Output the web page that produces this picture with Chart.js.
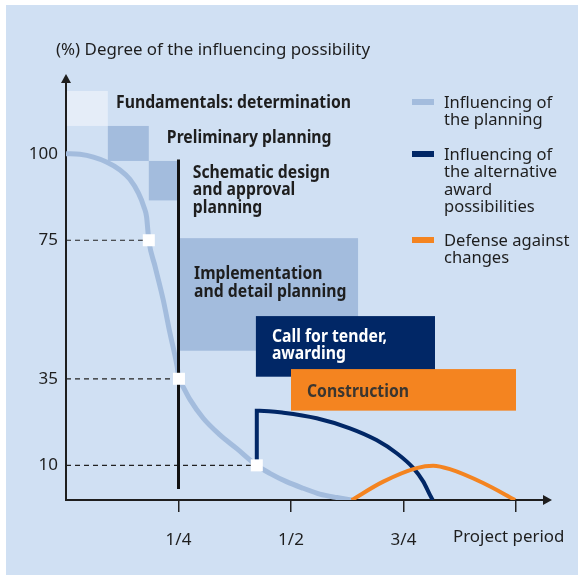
<!DOCTYPE html>
<html>
<head>
<meta charset="utf-8">
<script src="https://cdn.jsdelivr.net/npm/chart.js@4.4.1/dist/chart.umd.min.js"></script>
<style>
  body { margin: 0; background: #fff; }
  canvas { display: block; }
</style>
</head>
<body>
<canvas id="chart" width="578" height="575"></canvas>
<script>
// project period (fraction) and degree of influence (%)
const periodTicks = [0.25, 0.5, 0.75, 1];
const periodLabels = ['1/4', '1/2', '3/4', ''];
const degreeTicks = [10, 35, 75, 100];

const planningX = [0, 0.031, 0.061, 0.09, 0.12, 0.142, 0.161, 0.173, 0.179, 0.184, 0.198, 0.216, 0.231, 0.247, 0.251,
  0.261, 0.276, 0.305, 0.342, 0.379, 0.424, 0.453, 0.49, 0.527, 0.564, 0.602, 0.635];
const planningY = [100, 99.8, 99.0, 97.6, 95.3, 92.6, 88.6, 84.7, 81.8, 75, 67.4, 57.8, 48.2, 38.5, 35,
  32.5, 28.9, 23.6, 18.8, 14.9, 10, 7.7, 5.3, 3.4, 1.7, 0.7, 0];

const awardX = [0.424, 0.424, 0.43, 0.483, 0.557, 0.631, 0.69, 0.735, 0.772, 0.794, 0.809, 0.815];
const awardY = [10, 25.8, 25.8, 25.2, 23.6, 20.7, 17.3, 13.5, 9.2, 5.3, 1.4, 0];

const defenseX = [0.635, 0.705, 0.779, 0.816, 0.853, 0.927, 0.998];
const defenseY = [0, 5.3, 9.2, 9.9, 8.9, 4.9, 0];

const markerX = [0.184, 0.251, 0.424];
const markerY = [75, 35, 10];

const cutoffX = 0.25;
const cutoffRange = [98.3, 3.2];

const phaseNames = [
  ['Fundamentals: determination'],
  ['Preliminary planning'],
  ['Schematic design', 'and approval', 'planning'],
  ['Implementation', 'and detail planning'],
  ['Call for tender,', 'awarding'],
  ['Construction']
];
const phaseFrom = [0, 0.093, 0.184, 0.249, 0.422, 0.5];
const phaseTo = [0.093, 0.184, 0.249, 0.649, 0.82, 1.0];
const phaseHigh = [118.1, 108.0, 97.9, 75.6, 53.1, 37.8];
const phaseLow = [108.0, 97.9, 86.5, 43.1, 35.6, 25.8];

const legendNames = [
  ['Influencing of', 'the planning'],
  ['Influencing of', 'the alternative', 'award', 'possibilities'],
  ['Defense against', 'changes']
];

// styles
const LIGHT = '#a3bcdd';
const NAVY = '#012766';
const ORANGE = '#f48420';
const INK = '#1e1e1e';
const phaseStyle = [
  { fill: '#e5edf8', color: INK, dx: 50, dy: 12 },
  { fill: LIGHT, color: INK, dx: 59, dy: 12 },
  { fill: LIGHT, color: INK, dx: 44, dy: 12 },
  { fill: LIGHT, color: INK, dx: 16, dy: 36 },
  { fill: NAVY, color: '#fff', dx: 16, dy: 21 },
  { fill: ORANGE, color: '#3b3630', dx: 16, dy: 23 }
];
const legendStyle = [
  { color: LIGHT, y: 102 },
  { color: NAVY, y: 154 },
  { color: ORANGE, y: 240 }
];
const FONT = '"Noto Sans", sans-serif';
const LINE_H = 17.5;

const pts = (xs, ys) => xs.map((x, i) => ({ x, y: ys[i] }));

function drawText(ctx, str, x, y, font, color, squeeze) {
  ctx.save();
  ctx.font = font;
  ctx.fillStyle = color;
  ctx.textBaseline = 'middle';
  ctx.textAlign = 'left';
  ctx.translate(x, y);
  ctx.scale(squeeze, 1);
  ctx.fillText(str, 0, 0);
  ctx.restore();
}

function squeezeFor(ctx, font, str, target) {
  ctx.save();
  ctx.font = font;
  const w = ctx.measureText(str).width;
  ctx.restore();
  return Math.min(1, target / w);
}

const decor = {
  id: 'decor',
  beforeDraw(chart) {
    const ctx = chart.ctx;
    ctx.save();
    ctx.fillStyle = '#fff';
    ctx.fillRect(0, 0, chart.width, chart.height);
    ctx.fillStyle = '#d0e0f3';
    ctx.fillRect(6, 5, chart.width - 6, chart.height - 5);
    ctx.restore();
  },
  beforeDatasetsDraw(chart) {
    const ctx = chart.ctx;
    const xs = chart.scales.x, ys = chart.scales.y;
    const area = chart.chartArea;
    const bold = 'bold 17px ' + FONT;
    const sqB = squeezeFor(ctx, bold, phaseNames[0][0], 235);

    phaseNames.forEach((lines, i) => {
      const l = xs.getPixelForValue(phaseFrom[i]);
      const r = xs.getPixelForValue(phaseTo[i]);
      const t = ys.getPixelForValue(phaseHigh[i]);
      const b = ys.getPixelForValue(phaseLow[i]);
      const st = phaseStyle[i];
      ctx.fillStyle = st.fill;
      ctx.fillRect(l, t, r - l, b - t);
      lines.forEach((s, k) => drawText(ctx, s, l + st.dx, t + st.dy + k * LINE_H, bold, st.color, sqB));
    });

    // axes with arrows
    ctx.save();
    ctx.strokeStyle = INK;
    ctx.fillStyle = INK;
    ctx.lineWidth = 2;
    ctx.beginPath();
    ctx.moveTo(area.left, area.top + 6);
    ctx.lineTo(area.left, area.bottom);
    ctx.lineTo(area.right - 6, area.bottom);
    ctx.stroke();
    ctx.beginPath();
    ctx.moveTo(area.left, area.top);
    ctx.lineTo(area.left - 5, area.top + 9);
    ctx.lineTo(area.left + 5, area.top + 9);
    ctx.closePath();
    ctx.fill();
    ctx.beginPath();
    ctx.moveTo(area.right, area.bottom);
    ctx.lineTo(area.right - 9, area.bottom - 5);
    ctx.lineTo(area.right - 9, area.bottom + 5);
    ctx.closePath();
    ctx.fill();
    ctx.restore();
  },
  afterDraw(chart) {
    const ctx = chart.ctx;
    const reg = '17px ' + FONT;
    const sqR = squeezeFor(ctx, reg, '(%) Degree of the influencing possibility', 314);
    drawText(ctx, '(%) Degree of the influencing possibility', 56, 50, reg, INK, sqR);
    drawText(ctx, 'Project period', 453, 537, reg, INK, sqR);

    legendNames.forEach((lines, i) => {
      const st = legendStyle[i];
      ctx.fillStyle = st.color;
      ctx.fillRect(412, st.y - 3, 22, 6);
      lines.forEach((s, k) => drawText(ctx, s, 444, st.y + 1 + k * LINE_H, reg, INK, sqR * 0.98));
    });
  }
};

const guideSets = markerX.map((x, i) => ({
  data: [{ x: 0, y: markerY[i] }, { x, y: markerY[i] }],
  borderColor: '#222',
  borderWidth: 1.2,
  borderDash: [5, 4],
  pointRadius: 0,
  order: 6
}));

new Chart(document.getElementById('chart'), {
  type: 'line',
  data: {
    datasets: [
      {
        label: 'Markers',
        data: pts(markerX, markerY),
        showLine: false,
        pointStyle: 'rect',
        pointRadius: 8.5,
        pointBackgroundColor: '#fff',
        pointBorderWidth: 0,
        order: 0
      },
      {
        label: 'Defense against changes',
        data: pts(defenseX, defenseY),
        borderColor: ORANGE,
        borderWidth: 4,
        cubicInterpolationMode: 'monotone',
        pointRadius: 0,
        order: 1
      },
      {
        label: 'Influencing of the alternative award possibilities',
        data: pts(awardX, awardY),
        borderColor: NAVY,
        borderWidth: 4,
        borderJoinStyle: 'miter',
        cubicInterpolationMode: 'monotone',
        pointRadius: 0,
        order: 2
      },
      {
        label: 'Cutoff',
        data: [{ x: cutoffX, y: cutoffRange[0] }, { x: cutoffX, y: cutoffRange[1] }],
        borderColor: '#111',
        borderWidth: 3,
        pointRadius: 0,
        order: 3
      },
      {
        label: 'Influencing of the planning',
        data: pts(planningX, planningY),
        borderColor: LIGHT,
        borderWidth: 5,
        cubicInterpolationMode: 'monotone',
        pointRadius: 0,
        order: 4
      },
      ...guideSets
    ]
  },
  options: {
    responsive: false,
    devicePixelRatio: 1,
    animation: false,
    layout: { padding: { top: 74, right: 26, left: 0, bottom: 0 } },
    plugins: { legend: { display: false }, tooltip: { enabled: false } },
    scales: {
      x: {
        type: 'linear',
        min: 0,
        max: 1.08,
        border: { display: false },
        grid: { drawOnChartArea: false, tickLength: 12, color: '#222', lineWidth: 1.5 },
        afterBuildTicks: (s) => { s.ticks = periodTicks.map(v => ({ value: v })); },
        afterFit: (s) => { s.height = 75; },
        ticks: {
          autoSkip: false,
          maxRotation: 0,
          padding: 18,
          color: INK,
          font: { family: FONT, size: 17 },
          callback: (v) => periodLabels[periodTicks.indexOf(v)]
        }
      },
      y: {
        type: 'linear',
        min: 0,
        max: 123,
        border: { display: false },
        grid: { display: false, drawTicks: false },
        afterBuildTicks: (s) => { s.ticks = degreeTicks.map(v => ({ value: v })); },
        afterFit: (s) => { s.width = 66; },
        ticks: {
          autoSkip: false,
          padding: 8,
          color: INK,
          font: { family: FONT, size: 17 },
          callback: (v) => String(v)
        }
      }
    }
  },
  plugins: [decor]
});
</script>
</body>
</html>
